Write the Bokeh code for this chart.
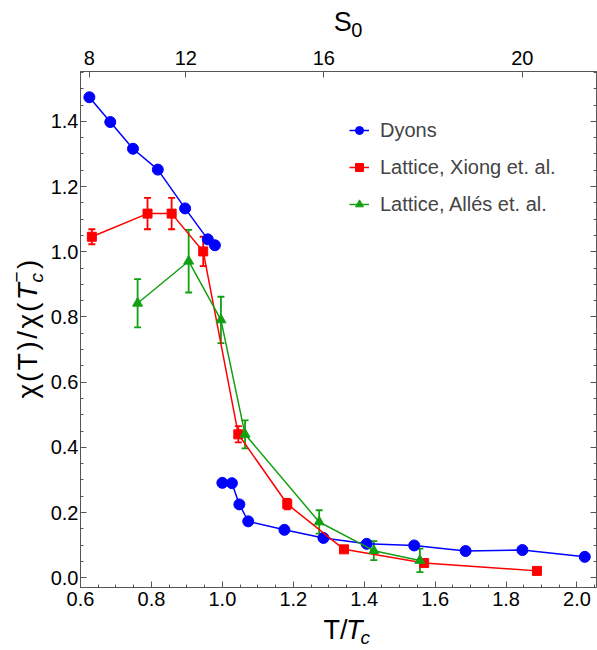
import numpy as np
from bokeh.plotting import figure
from bokeh.layouts import row, column
from bokeh.models import (ColumnDataSource, Whisker, TeeHead, Legend, LegendItem,
                          LinearAxis, FixedTicker, PrintfTickFormatter, Label, Range1d)
from bokeh.embed import file_html
from bokeh.resources import INLINE

# ---------------- data ----------------
dyon_T_below = [0.625, 0.684, 0.748, 0.818, 0.895, 0.959, 0.979]
dyon_chi_below = [1.474, 1.398, 1.316, 1.252, 1.133, 1.038, 1.020]
dyon_T_above = [1.000, 1.027, 1.048, 1.073, 1.175, 1.285, 1.407, 1.541, 1.686, 1.846, 2.022]
dyon_chi_above = [0.291, 0.290, 0.225, 0.173, 0.147, 0.122, 0.104, 0.099, 0.082, 0.085, 0.064]

xiong_T = [0.632, 0.789, 0.857, 0.946, 1.045, 1.183, 1.343, 1.569, 1.887]
xiong_chi = [1.046, 1.117, 1.117, 1.001, 0.440, 0.226, 0.087, 0.045, 0.021]
xiong_err = [0.023, 0.048, 0.048, 0.045, 0.025, 0.016, 0.006, 0.006, 0.005]

alles_T = [0.761, 0.905, 0.996, 1.064, 1.273, 1.427, 1.557]
alles_chi = [0.842, 0.971, 0.791, 0.440, 0.171, 0.083, 0.053]
alles_err = [0.074, 0.096, 0.071, 0.043, 0.036, 0.029, 0.036]

x_ticks = [0.6, 0.8, 1.0, 1.2, 1.4, 1.6, 1.8, 2.0]
y_ticks = [0.0, 0.2, 0.4, 0.6, 0.8, 1.0, 1.2, 1.4]
s0_tick_T = [0.625, 0.897, 1.286, 1.846]
s0_labels = ["8", "12", "16", "20"]

legend_labels = ["Dyons", "Lattice, Xiong et. al.", "Lattice, Allés et. al."]

# ---------------- style / layout ----------------
BLUE = "#0000FF"
RED = "#FF0000"
GREEN = "#12A012"
FRAME = "#555555"
FONT = "Liberation Sans"

W, H = 597, 650
LEFT_W = 47          # left strip holding the rotated y title
TOP_H = 41           # strip above holding S_0
BOT_H = 36           # strip below holding T/T_c
MAIN_W = W - LEFT_W
MAIN_H = H - TOP_H - BOT_H
FL, FR, FT, FB = 80, 596, 71, 587   # frame edges on the page

X0, X1 = 0.6, 2.055
Y0, Y1 = -0.03, 1.553

p = figure(width=MAIN_W, height=MAIN_H, x_range=Range1d(X0, X1), y_range=Range1d(Y0, Y1),
           output_backend="svg", toolbar_location=None,
           min_border_left=FL - LEFT_W, min_border_right=W - FR,
           min_border_top=FT - TOP_H, min_border_bottom=(H - BOT_H) - FB)
p.grid.grid_line_color = None
p.outline_line_color = FRAME
p.background_fill_color = "white"
p.border_fill_color = "white"


def style_axis(ax, size="20px"):
    ax.axis_line_color = FRAME
    ax.axis_line_width = 1
    ax.major_tick_line_color = FRAME
    ax.minor_tick_line_color = FRAME
    ax.major_tick_in = 6
    ax.major_tick_out = 0
    ax.minor_tick_in = 3
    ax.minor_tick_out = 0
    ax.major_label_text_font = FONT
    ax.major_label_text_font_size = size
    ax.major_label_text_color = "black"


x_minor = list(np.round(np.arange(0.6, 2.06, 0.05), 3))
y_minor = list(np.round(np.arange(0.0, 1.56, 0.05), 3))

bottom = p.xaxis[0]
bottom.ticker = FixedTicker(ticks=x_ticks, minor_ticks=x_minor)
bottom.formatter = PrintfTickFormatter(format="%.1f")
style_axis(bottom)
bottom.major_label_standoff = 4

left = p.yaxis[0]
left.ticker = FixedTicker(ticks=y_ticks, minor_ticks=y_minor)
left.formatter = PrintfTickFormatter(format="%.1f")
style_axis(left)
left.major_label_standoff = 2

top = LinearAxis(ticker=FixedTicker(ticks=s0_tick_T, minor_ticks=[]),
                 major_label_overrides={t: l for t, l in zip(s0_tick_T, s0_labels)})
style_axis(top)
top.major_label_standoff = 7
p.add_layout(top, "above")

right = LinearAxis(ticker=FixedTicker(ticks=y_ticks, minor_ticks=y_minor),
                   major_label_overrides={t: "" for t in y_ticks})
style_axis(right)
right.major_label_standoff = 0
p.add_layout(right, "right")

# ---------------- error bars ----------------
xs = ColumnDataSource(dict(T=xiong_T, chi=xiong_chi,
                           lo=[c - e for c, e in zip(xiong_chi, xiong_err)],
                           up=[c + e for c, e in zip(xiong_chi, xiong_err)]))
als = ColumnDataSource(dict(T=alles_T, chi=alles_chi,
                            lo=[c - e for c, e in zip(alles_chi, alles_err)],
                            up=[c + e for c, e in zip(alles_chi, alles_err)]))

for src, col in [(xs, RED), (als, GREEN)]:
    w = Whisker(source=src, base="T", lower="lo", upper="up", line_color=col, line_width=1.8,
                upper_head=TeeHead(size=7, line_color=col, line_width=1.8),
                lower_head=TeeHead(size=7, line_color=col, line_width=1.8))
    p.add_layout(w)

# ---------------- series ----------------
lb1 = p.line(dyon_T_below, dyon_chi_below, line_color=BLUE, line_width=1.5)
lb2 = p.line(dyon_T_above, dyon_chi_above, line_color=BLUE, line_width=1.5)
sb1 = p.scatter(dyon_T_below + dyon_T_above, dyon_chi_below + dyon_chi_above, marker="circle",
                size=11, fill_color=BLUE, line_color=BLUE)

lr = p.line("T", "chi", source=xs, line_color=RED, line_width=1.5)
sr = p.scatter("T", "chi", source=xs, marker="square", size=9, fill_color=RED, line_color=RED)

lg = p.line("T", "chi", source=als, line_color=GREEN, line_width=1.5)
sg = p.scatter("T", "chi", source=als, marker="triangle", size=10, fill_color=GREEN, line_color=GREEN)

legend = Legend(items=[LegendItem(label=legend_labels[0], renderers=[lb1, sb1]),
                       LegendItem(label=legend_labels[1], renderers=[lr, sr]),
                       LegendItem(label=legend_labels[2], renderers=[lg, sg])],
                location=(269, 371), orientation="vertical",
                glyph_width=20, glyph_height=24, label_height=24, spacing=13,
                label_standoff=11, padding=0, margin=0,
                label_text_font=FONT, label_text_font_size="20px",
                border_line_color=None, background_fill_alpha=0)
p.add_layout(legend)


# ---------------- title strips (real text, composed pieces) ----------------
def strip(width, height):
    f = figure(width=width, height=height, x_range=Range1d(0, width), y_range=Range1d(0, height),
               output_backend="svg", toolbar_location=None,
               x_axis_location=None, y_axis_location=None, min_border=0)
    f.grid.visible = False
    f.outline_line_color = None
    f.background_fill_color = "white"
    f.border_fill_color = "white"
    return f


MID = 0.3465  # baseline lies this fraction of the font size below the box middle


def put(f, ox, oy, cx, cy, text, size, style="normal", rotated=False):
    # (cx, cy): page position of the glyph baseline start (top-left origin)
    # (ox, oy): page position of the strip's top-left corner
    if rotated:
        cx = cx - MID * size
    else:
        cy = cy - MID * size
    f.add_layout(Label(x=cx - ox, y=f.height - (cy - oy), x_units="data", y_units="data",
                       text=text, text_font=FONT, text_font_size=f"{size}px",
                       text_font_style=style, text_color="black", text_align="left",
                       text_baseline="middle", angle=(np.pi / 2 if rotated else 0.0)))


top_strip = strip(MAIN_W, TOP_H)
bot_strip = strip(MAIN_W, BOT_H)
left_strip = strip(LEFT_W, H)

# S_0 (top)
sx, sy = 317, 31
put(top_strip, LEFT_W, 0, sx, sy, "S", 27)
put(top_strip, LEFT_W, 0, sx + 18.5, sy + 5, "0", 20)

# T/T_c (bottom)
bx, by = 306, 639
put(bot_strip, LEFT_W, H - BOT_H, bx, by, "T/", 27)
put(bot_strip, LEFT_W, H - BOT_H, bx + 24, by, "T", 27, "italic")
put(bot_strip, LEFT_W, H - BOT_H, bx + 39.5, by + 5, "c", 19, "italic")

# chi(T)/chi(T_c^-) (left, rotated, reading upward), set char by char with slight tracking
YL_SIZE = 28
GAP = 2.5
base_x = 37
y_cursor = 398.0
for ch, em, style in [("χ", 0.5, "normal"), ("(", 0.333, "normal"), ("T", 0.611, "normal"),
                      (")", 0.333, "normal"), ("/", 0.278, "normal"), ("χ", 0.5, "normal"),
                      ("(", 0.333, "normal"), ("T", 0.611, "italic")]:
    put(left_strip, 0, 0, base_x, y_cursor, ch, YL_SIZE, style, rotated=True)
    y_cursor -= em * YL_SIZE + GAP
y_cursor += GAP - 0.5
put(left_strip, 0, 0, base_x + 5.5, y_cursor, "c", 19, "italic", rotated=True)
put(left_strip, 0, 0, base_x - 14, y_cursor, "−", 19, rotated=True)
y_cursor -= 11.1 + GAP
put(left_strip, 0, 0, base_x, y_cursor, ")", YL_SIZE, rotated=True)

layout = row(left_strip, column(top_strip, p, bot_strip, spacing=0), spacing=0)

open("out.html", "w").write(file_html(layout, INLINE))
